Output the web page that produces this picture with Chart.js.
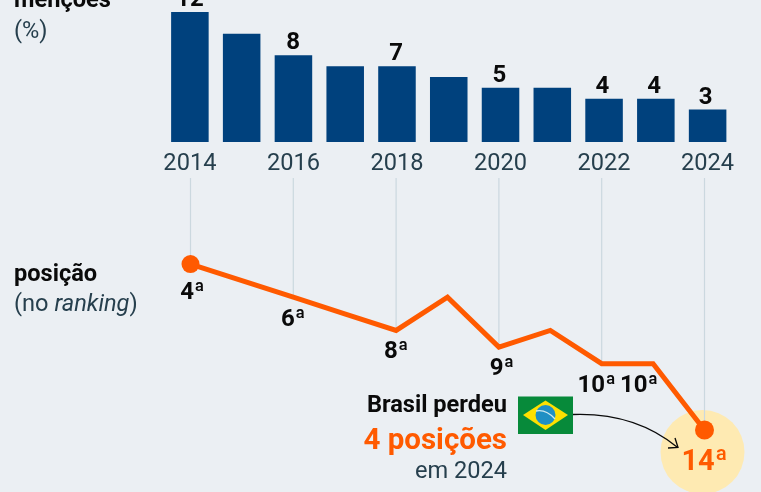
<!DOCTYPE html>
<html>
<head>
<meta charset="utf-8">
<script src="https://cdn.jsdelivr.net/npm/chart.js@4"></script>
<style>
  html, body { margin: 0; padding: 0; background: #ebeff3; }
  #page { position: relative; width: 761px; height: 492px; overflow: hidden; font-family: Roboto, sans-serif; color: #263f4d; }
  #barWrap { position: absolute; left: 0; top: 0; width: 761px; height: 178px; }
  #lineWrap { position: absolute; left: 0; top: 178px; width: 761px; height: 314px; }
  .txt { position: absolute; white-space: nowrap; font-size: 23.6px; line-height: 26px; }
  .b { font-weight: 700; color: #0a0a0a; }
  svg { position: absolute; left: 0; top: 0; }
</style>
</head>
<body>
<div id="page">
  <div id="barWrap"><canvas id="barChart"></canvas></div>
  <div id="lineWrap"><canvas id="lineChart"></canvas></div>

  <div class="txt b" style="left:14px;top:-14px">menções</div>
  <div class="txt" style="left:14px;top:17px">(%)</div>
  <div class="txt b" style="left:14px;top:260px">posição</div>
  <div class="txt" style="left:14px;top:290px">(no <i>ranking</i>)</div>

  <div class="txt b" style="right:254px;top:391px">Brasil perdeu</div>
  <div class="txt" style="right:254px;top:424px;font-size:29.5px;line-height:30px;font-weight:700;color:#ff5a00">4 posições</div>
  <div class="txt" style="right:254px;top:457px">em 2024</div>

  <svg width="761" height="492" viewBox="0 0 761 492">
    <rect x="518" y="396.5" width="55" height="37.5" fill="#078a3a"/>
    <polygon points="523,415 545.5,400.5 568,415 545.5,430" fill="#fee000"/>
    <circle cx="545.5" cy="415" r="10" fill="#1f8fc4"/>
    <path d="M536 411 Q546 409 555 419" stroke="#cfe8ef" stroke-width="1.4" fill="none"/>
    <path d="M573 414.5 C615 413 650 425 677 447" stroke="#0a0a0a" stroke-width="1.3" fill="none"/>
    <path d="M668 448 L678 447.5 L675 438" stroke="#0a0a0a" stroke-width="1.3" fill="none"/>
  </svg>
</div>

<script>
const years = ['2014', '2015', '2016', '2017', '2018', '2019', '2020', '2021', '2022', '2023', '2024'];
const mentions = [12, 10, 8, 7, 7, 6, 5, 5, 4, 4, 3];
const mentionLabels = ['12', '', '8', '', '7', '', '5', '', '4', '4', '3'];
const ranking = [4, 5, 6, 7, 8, 6, 9, 8, 10, 10, 14];
const rankLabels = ['4ª', '', '6ª', '', '8ª', '', '9ª', '', '10ª', '10ª', '14ª'];

const BAR_COLOR = '#00417d';
const ORANGE = '#ff5a00';
const GRID = '#cbd8df';
const TEXT = '#263f4d';

// where each ranking label baseline sits relative to its point
const rankLabelShift = [[2, 35], [0, 0], [0, 29], [0, 0], [0, 28], [0, 0], [3, 28], [0, 0], [-5, 28], [-14, 28], [0, 40]];

// Value labels above the bars (they drift a little left of the bars in the original)
const barLabelPlugin = {
    id: 'barLabels',
    afterDatasetsDraw(chart) {
        const c = chart.ctx;
        const bars = chart.getDatasetMeta(0).data;
        c.save();
        c.font = '700 24px Roboto';
        c.fillStyle = '#0a0a0a';
        c.textAlign = 'center';
        c.textBaseline = 'alphabetic';
        bars.forEach((bar, i) => {
            if (mentionLabels[i]) c.fillText(mentionLabels[i], bar.x - i * 0.2, bar.y - 6);
        });
        c.restore();
    }
};

// Drop lines for the even years and the highlight behind the last point
const dropLinePlugin = {
    id: 'dropLines',
    beforeDatasetsDraw(chart) {
        const c = chart.ctx;
        const pts = chart.getDatasetMeta(0).data;
        const last = pts[pts.length - 1];
        c.save();
        c.beginPath();
        c.arc(last.x - 2, last.y + 22, 42, 0, Math.PI * 2);
        c.fillStyle = '#feeab2';
        c.fill();
        c.strokeStyle = GRID;
        c.lineWidth = 1.2;
        pts.forEach((p, i) => {
            if (i % 2 !== 0) return;
            c.beginPath();
            c.moveTo(p.x, 0);
            c.lineTo(p.x, p.y);
            c.stroke();
        });
        c.restore();
    },
    afterDatasetsDraw(chart) {
        const c = chart.ctx;
        const pts = chart.getDatasetMeta(0).data;
        c.save();
        c.textAlign = 'center';
        c.textBaseline = 'alphabetic';
        pts.forEach((p, i) => {
            if (!rankLabels[i]) return;
            const isLast = i === pts.length - 1;
            c.font = isLast ? '700 29px Roboto' : '700 24px Roboto';
            c.fillStyle = isLast ? ORANGE : '#0a0a0a';
            c.fillText(rankLabels[i], p.x + rankLabelShift[i][0], p.y + rankLabelShift[i][1]);
        });
        c.restore();
    }
};

// 1. Bars on top
new Chart(document.getElementById('barChart').getContext('2d'), {
    type: 'bar',
    data: {
        labels: years,
        datasets: [{ data: mentions, backgroundColor: BAR_COLOR, barPercentage: 0.725, categoryPercentage: 1 }]
    },
    options: {
        responsive: true,
        maintainAspectRatio: false,
        animation: false,
        layout: { padding: { left: 164, right: 27.5, top: 0, bottom: 0 } },
        plugins: { legend: { display: false }, tooltip: { enabled: false } },
        scales: {
            x: {
                afterFit: s => { s.height = 36; },
                grid: { display: false },
                border: { display: false },
                ticks: {
                    autoSkip: false,
                    maxRotation: 0,
                    padding: 0,
                    color: TEXT,
                    font: { family: 'Roboto', size: 23.6 },
                    callback(v, i) { return i % 2 === 0 ? years[i] : ''; }
                }
            },
            y: { display: false, min: 0, max: 13.11 }
        }
    },
    plugins: [barLabelPlugin]
});

// 2. Ranking line below
new Chart(document.getElementById('lineChart').getContext('2d'), {
    type: 'line',
    data: {
        labels: years,
        datasets: [{
            data: ranking,
            borderColor: ORANGE,
            backgroundColor: ORANGE,
            borderWidth: 5,
            tension: 0,
            pointRadius: [9, 0, 0, 0, 0, 0, 0, 0, 0, 0, 9.5],
            pointBorderWidth: 0,
            clip: false
        }]
    },
    options: {
        responsive: true,
        maintainAspectRatio: false,
        animation: false,
        layout: { autoPadding: false, padding: { left: 190.5, right: 56.5, top: 0, bottom: 0 } },
        plugins: { legend: { display: false }, tooltip: { enabled: false } },
        scales: {
            x: { display: false },
            y: { display: false, reverse: true, min: -1.18, max: 17.73 }
        }
    },
    plugins: [dropLinePlugin]
});
</script>
</body>
</html>
